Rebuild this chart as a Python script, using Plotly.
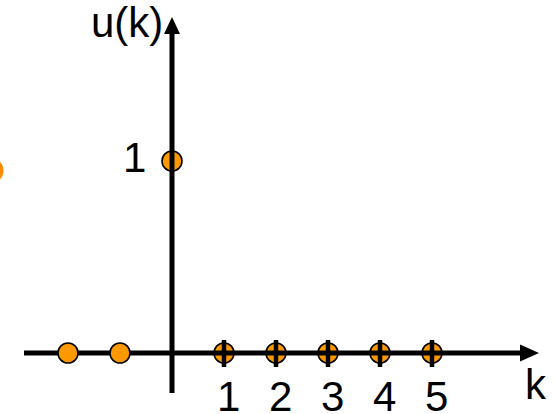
import plotly.graph_objects as go

# data
k_vals = [-2, -1, 0, 1, 2, 3, 4, 5]
u_vals = [0, 0, 1, 0, 0, 0, 0, 0]
tick_k = [1, 2, 3, 4, 5]
tick_labels = ["1", "2", "3", "4", "5"]
stray_k = [-3.49]
stray_u = [0.95]

W, H = 554, 414
px_per_k = 52.0
px_per_u = 192.0
x0_px, y0_px = 172.0, 353.0
xmin = -x0_px / px_per_k
xmax = xmin + W / px_per_k
ymax = y0_px / px_per_u
ymin = -(H - y0_px) / px_per_u

def kx(px):
    return xmin + px / px_per_k

def uy(py):
    return (y0_px - py) / px_per_u

ORANGE = "#FF9900"
FONT = "Liberation Sans, Arial, sans-serif"
FS = 42

fig = go.Figure()
fig.add_trace(go.Scatter(x=stray_k, y=stray_u, mode="markers",
                         marker=dict(size=26, color="#FF8C00", line=dict(width=0)),
                         hoverinfo="skip"))
fig.add_trace(go.Scatter(x=k_vals, y=u_vals, mode="markers",
                         marker=dict(size=20, color=ORANGE, line=dict(width=1.6, color="black")),
                         hoverinfo="skip"))

shapes = []
lw = 5
# horizontal axis: left part below markers, right part above markers
shapes.append(dict(type="line", xref="x", yref="y", x0=kx(24), x1=0, y0=0, y1=0,
                   line=dict(color="black", width=lw), layer="below"))
shapes.append(dict(type="line", xref="x", yref="y", x0=0, x1=kx(524), y0=0, y1=0,
                   line=dict(color="black", width=lw), layer="above"))
# horizontal arrowhead
shapes.append(dict(type="path", xref="x", yref="y",
                   path=f"M {kx(520)} {uy(344.5)} L {kx(539)} {uy(353)} L {kx(520)} {uy(361.5)} Z",
                   fillcolor="black", line=dict(color="black", width=0), layer="above"))
# vertical axis
shapes.append(dict(type="line", xref="x", yref="y", x0=0, x1=0, y0=uy(393), y1=uy(30),
                   line=dict(color="black", width=lw), layer="above"))
shapes.append(dict(type="path", xref="x", yref="y",
                   path=f"M {kx(164)} {uy(34)} L {kx(172)} {uy(17)} L {kx(180)} {uy(34)} Z",
                   fillcolor="black", line=dict(color="black", width=0), layer="above"))
# tick marks
for t in tick_k:
    shapes.append(dict(type="line", xref="x", yref="y", x0=t, x1=t, y0=uy(340), y1=uy(367),
                       line=dict(color="black", width=4.5), layer="above"))

annotations = []
for t, lab in zip(tick_k, tick_labels):
    annotations.append(dict(x=t + 0.08, y=uy(396), xref="x", yref="y", text=lab, showarrow=False,
                            font=dict(family=FONT, size=FS, color="black"),
                            xanchor="center", yanchor="middle"))
annotations.append(dict(x=kx(148), y=uy(157), xref="x", yref="y", text="1", showarrow=False,
                        font=dict(family=FONT, size=FS, color="black"),
                        xanchor="right", yanchor="middle"))
annotations.append(dict(x=kx(536), y=uy(384), xref="x", yref="y", text="k", showarrow=False,
                        font=dict(family=FONT, size=FS, color="black"),
                        xanchor="center", yanchor="middle"))
annotations.append(dict(x=kx(127), y=uy(22), xref="x", yref="y", text="u(k)", showarrow=False,
                        font=dict(family=FONT, size=FS, color="black"),
                        xanchor="center", yanchor="middle"))

fig.update_layout(
    width=W, height=H,
    margin=dict(l=0, r=0, t=0, b=0),
    paper_bgcolor="white", plot_bgcolor="white",
    showlegend=False,
    xaxis=dict(range=[xmin, xmax], visible=False, fixedrange=True),
    yaxis=dict(range=[ymin, ymax], visible=False, fixedrange=True),
    shapes=shapes,
    annotations=annotations,
)
fig.write_html("out.html", config={"displayModeBar": False},
               post_script="document.body.style.margin='0';document.body.style.overflow='hidden';")
